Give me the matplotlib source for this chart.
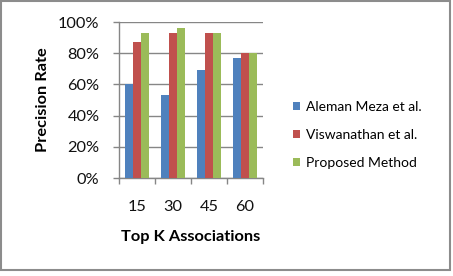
import matplotlib
matplotlib.use("Agg")
import matplotlib.pyplot as plt
from matplotlib.patches import Rectangle
import numpy as np

categories = ["15", "30", "45", "60"]
series_names = ["Aleman Meza et al.", "Viswanathan et al.", "Proposed Method"]
aleman = [60, 53, 69, 77]
viswanathan = [87, 93, 93, 80]
proposed = [93, 96, 93, 80]
colors = ["#4F81BD", "#C0504D", "#9BBB59"]
y_ticks = [0, 20, 40, 60, 80, 100]
y_ticklabels = ["0%", "20%", "40%", "60%", "80%", "100%"]

plt.rcParams['font.family'] = ['Lato', 'DejaVu Sans']

W, H = 453, 276
fig = plt.figure(figsize=(W / 100, H / 100), dpi=100)

def px(x0, y0, x1, y1):
    return [x0 / W, 1 - y1 / H, (x1 - x0) / W, (y1 - y0) / H]

ax = fig.add_axes(px(119, 22, 263, 178))
x = np.arange(len(categories))
bw = 0.222
for i, (vals, name) in enumerate(zip([aleman, viswanathan, proposed], series_names)):
    ax.bar(x + (i - 1) * bw, vals, width=bw, color=colors[i], label=name, zorder=3)

ax.set_xlim(-0.5, len(categories) - 0.5)
ax.set_ylim(0, 100)
ax.set_yticks(y_ticks)
ax.set_yticklabels(y_ticklabels, fontsize=11.8, color="#111111")
ax.set_xticks(x)
ax.set_xticklabels(categories, fontsize=11.8, color="#111111")
ax.set_xticks(np.arange(-0.5, len(categories)), minor=True)
ax.tick_params(axis='x', which='major', length=0, pad=16)
ax.tick_params(axis='x', which='minor', length=4, width=1, color="#868686", direction='out')
ax.tick_params(axis='y', length=4, width=1, color="#868686", direction='out', pad=10)
ax.grid(axis='y', color="#868686", linewidth=1, zorder=0)
for s in ['top', 'right']:
    ax.spines[s].set_visible(False)
for s in ['left', 'bottom']:
    ax.spines[s].set_color("#868686")
    ax.spines[s].set_linewidth(1)

ax.set_ylabel("Precision Rate", fontsize=11.8, fontweight='bold', labelpad=6)
ax.set_xlabel("Top K Associations", fontsize=11.8, fontweight='bold', labelpad=11)

fig.legend(loc='center left', bbox_to_anchor=(293 / W, 1 - 135 / H), frameon=False,
           fontsize=10, handlelength=0.5, handleheight=0.5, handletextpad=0.45,
           labelspacing=1.15, borderaxespad=0, borderpad=0)

fig.patches.append(Rectangle((1 / W, 1 - 270 / H), 449 / W, 269 / H, transform=fig.transFigure,
                             fill=False, edgecolor="#8c8c8c", linewidth=1.5))

fig.savefig("out.png", dpi=100)
